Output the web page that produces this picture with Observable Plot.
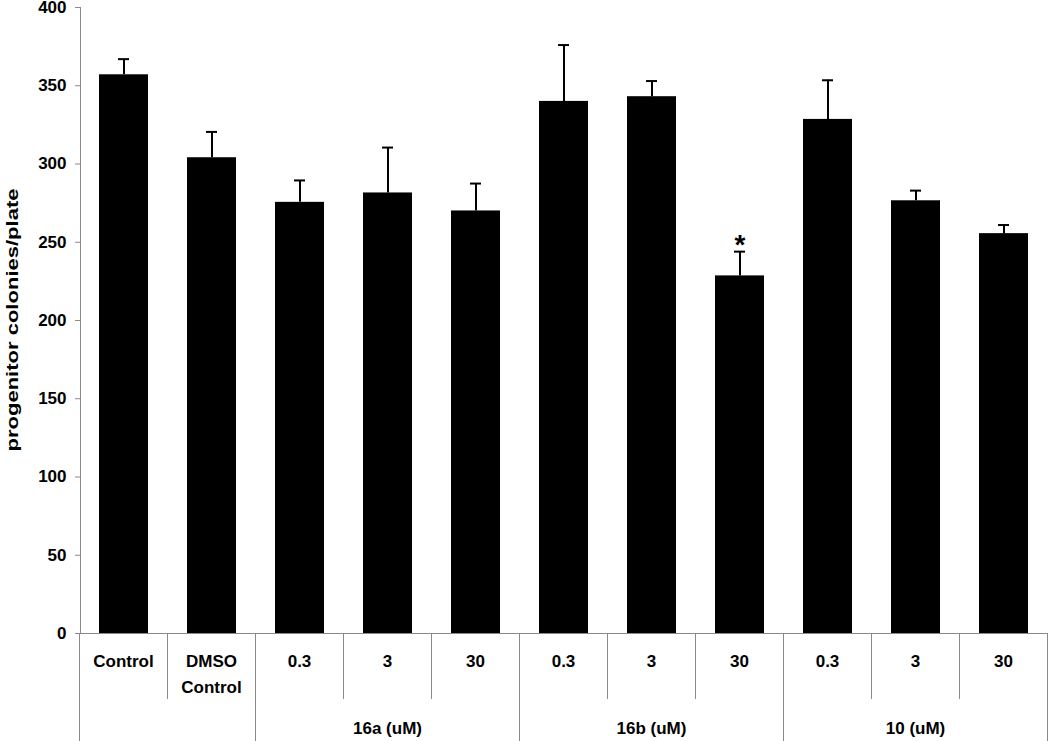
<!DOCTYPE html>
<html><head><meta charset="utf-8">
<script src="https://cdn.jsdelivr.net/npm/d3@7"></script>
<script src="https://cdn.jsdelivr.net/npm/@observablehq/plot@0.6"></script>
<style>body{margin:0;background:#fff;} svg{display:block;}</style>
</head><body><div id="chart"></div>
<script>
// ---- data ----
const categories = ["Control","DMSO Control","16a 0.3","16a 3","16a 30","16b 0.3","16b 3","16b 30","10 0.3","10 3","10 30"];
const tickLabels = [["Control"],["DMSO","Control"],["0.3"],["3"],["30"],["0.3"],["3"],["30"],["0.3"],["3"],["30"]];
const groupOf = ["ctrl","ctrl","16a","16a","16a","16b","16b","16b","10","10","10"];
const groupLabels = {ctrl: "", "16a": "16a (uM)", "16b": "16b (uM)", "10": "10 (uM)"};
const means = [357, 304, 275.5, 281.5, 270, 340, 343, 228.5, 328.5, 276.5, 255.5];
const errors = [10, 16.5, 14, 29, 17.5, 36, 10, 15.5, 25, 6.5, 5.5];
const significance = ["","","","","","","","*","","",""];
const yTicks = [0, 50, 100, 150, 200, 250, 300, 350, 400];
const yLabel = "progenitor colonies/plate";

const data = categories.map((c, i) => ({cat: c, mean: means[i], upper: means[i] + errors[i], sig: significance[i]}));
const font = "'Liberation Sans', Arial, sans-serif";
const gray = "#8a8a8a";

const plot = Plot.plot({
  width: 1050, height: 741,
  marginLeft: 80, marginRight: 2, marginTop: 7, marginBottom: 108,
  x: {domain: categories, paddingInner: 0.44, paddingOuter: 0.22, axis: null},
  y: {domain: [0, 400], axis: null},
  style: {fontFamily: font, background: "white", overflow: "visible"},
  marks: [
    Plot.axisY({ticks: yTicks, tickSize: 5, stroke: gray, tickPadding: 9, fontSize: 17, fontWeight: "bold", fill: "black", label: null}),
    Plot.frame({anchor: "left", stroke: gray}),
    Plot.barY(data, {x: "cat", y: "mean", fill: "black"}),
    Plot.ruleX(data, {x: "cat", y1: "mean", y2: "upper", stroke: "black", strokeWidth: 2}),
    Plot.tickY(data, {x: "cat", y: "upper", stroke: "black", strokeWidth: 2, insetLeft: 19, insetRight: 19}),
    Plot.text(data.filter(d => d.sig), {x: "cat", y: "upper", text: "sig", dy: 2, lineAnchor: "bottom", fontSize: 28, fontWeight: "bold", fill: "black"}),
    Plot.ruleY([0], {stroke: gray})
  ]
});

// ---- category table below the axis, positioned with Plot's own scales ----
const xs = plot.scale("x"), ys = plot.scale("y");
const step = xs.step, bw = xs.bandwidth;
const left = c => xs.apply(c) - (step - bw) / 2;
const y0 = ys.apply(0);
const row1 = y0 + 66, bottom = 741;
const svg = d3.select(plot);
const g = svg.append("g").attr("font-family", font).attr("font-weight", "bold").attr("font-size", 17).attr("text-anchor", "middle");

categories.forEach((c, i) => {
  const isStart = i === 0 || groupOf[i] !== groupOf[i - 1];
  g.append("line").attr("x1", left(c)).attr("x2", left(c)).attr("y1", y0).attr("y2", isStart ? bottom : row1)
    .attr("stroke", gray).attr("stroke-width", 1);
  tickLabels[i].forEach((t, j) => {
    g.append("text").attr("x", xs.apply(c) + bw / 2).attr("y", y0 + 28 + j * 26).attr("dy", "0.35em").text(t);
  });
});
const last = categories[categories.length - 1];
g.append("line").attr("x1", left(last) + step).attr("x2", left(last) + step).attr("y1", y0).attr("y2", bottom)
  .attr("stroke", gray).attr("stroke-width", 1);

d3.groups(categories.map((c, i) => ({c, g: groupOf[i]})), d => d.g).forEach(([key, items]) => {
  const x1 = left(items[0].c), x2 = left(items[items.length - 1].c) + step;
  if (groupLabels[key]) g.append("text").attr("x", (x1 + x2) / 2).attr("y", y0 + 95).attr("dy", "0.35em").text(groupLabels[key]);
});

// y axis title
svg.append("text").attr("transform", `translate(12,${(ys.apply(0) + ys.apply(400)) / 2}) rotate(-90)`)
  .attr("text-anchor", "middle").attr("dy", "0.35em").attr("font-family", font).attr("font-weight", "bold")
  .attr("font-size", 16).attr("textLength", 263).attr("lengthAdjust", "spacingAndGlyphs").text(yLabel);

document.getElementById("chart").appendChild(plot);
</script>
</body></html>
